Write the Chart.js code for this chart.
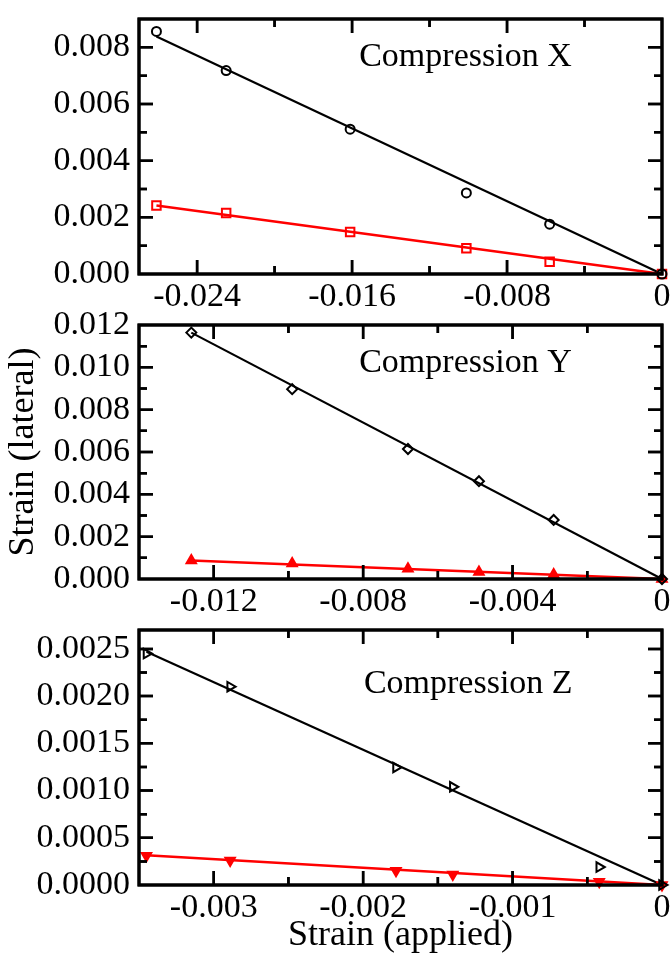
<!DOCTYPE html>
<html>
<head>
<meta charset="utf-8">
<script src="https://cdn.jsdelivr.net/npm/chart.js@4.4.1/dist/chart.umd.min.js"></script>
<style>
  html, body { margin: 0; padding: 0; background: #fff; overflow: hidden; }
  #wrap { position: relative; width: 671px; height: 958px; overflow: hidden; background: #fff; }
  #wrap canvas { position: absolute; left: 0; }
</style>
</head>
<body>
<div id="wrap">
  <canvas id="panelX"></canvas>
  <canvas id="panelY"></canvas>
  <canvas id="panelZ"></canvas>
</div>
<script>
// ---- Compression X ----
const appliedX   = [-0.0261, -0.0225, -0.0161, -0.0101, -0.0058, 0];
const lateralX1  = [0.00856, 0.00718, 0.00511, 0.00286, 0.00176, 0];
const lateralX2  = [0.00242, 0.00215, 0.00148, 0.00091, 0.00043, 0];
const fitSpanX   = [-0.0261, 0];
const fitX1      = [0.00838, 0];
const fitX2      = [0.00242, 0];
const xTicksX    = ['-0.024', '-0.016', '-0.008', '0'];
const yTicksX    = ['0.000', '0.002', '0.004', '0.006', '0.008'];

// ---- Compression Y ----
const appliedY   = [-0.0126, -0.0099, -0.0068, -0.0049, -0.0029, 0];
const lateralY1  = [0.01164, 0.00897, 0.00614, 0.00462, 0.00279, 0];
const lateralY2  = [0.00087, 0.00073, 0.00049, 0.00033, 0.00021, 0];
const fitSpanY   = [-0.0126, 0];
const fitY1      = [0.01164, 0];
const fitY2      = [0.00087, 0];
const xTicksY    = ['-0.012', '-0.008', '-0.004', '0'];
const yTicksY    = ['0.000', '0.002', '0.004', '0.006', '0.008', '0.010', '0.012'];

// ---- Compression Z ----
const appliedZ   = [-0.00345, -0.00289, -0.00178, -0.00140, -0.00042, 0];
const lateralZ1  = [0.00245, 0.00210, 0.001245, 0.00104, 0.00019, 0];
const lateralZ2  = [0.00031, 0.00026, 0.000152, 0.00011, 0.000035, 0];
const fitSpanZ   = [-0.00345, 0];
const fitZ1      = [0.00247, 0];
const fitZ2      = [0.000316, 0];
const xTicksZ    = ['-0.003', '-0.002', '-0.001', '0'];
const yTicksZ    = ['0.0000', '0.0005', '0.0010', '0.0015', '0.0020', '0.0025'];

// ---- layout ----
const FONT = '"Liberation Serif", "Times New Roman", serif';
const PLOT_LEFT = 139, PLOT_RIGHT = 662, CANVAS_W = 700, PAD_TOP = 40;
const BLACK = '#000000', RED = '#ff0000';

const toPoints = (xs, ys) => xs.map((x, i) => ({ x, y: ys[i] }));

// Minor tick values halfway between the major ticks, within the axis range
function minorValues(scale) {
  const vals = scale.ticks.map(t => t.value);
  const step = vals[1] - vals[0];
  const out = [];
  let v = vals[0] - step / 2;
  while (v - step >= scale.min) v -= step;
  for (; v <= scale.max + step * 1e-6; v += step) {
    if (v >= scale.min - step * 1e-6) out.push(v);
  }
  return out;
}

// Boxed frame with inward major/minor ticks on all four sides
function drawFrame(chart) {
  const { ctx, chartArea: a, scales: { x, y } } = chart;
  ctx.save();
  ctx.setTransform(1, 0, 0, 1, 0, 0);
  ctx.globalAlpha = 1;
  ctx.globalCompositeOperation = 'source-over';
  ctx.setLineDash([]);
  ctx.strokeStyle = BLACK;
  ctx.lineCap = 'butt';
  const vTicks = (vals, len) => {
    vals.forEach(v => {
      const px = x.getPixelForValue(v);
      if (!(px > a.left + 2 && px < a.right - 2)) return;
      ctx.beginPath();
      ctx.moveTo(px, a.bottom); ctx.lineTo(px, a.bottom - len);
      ctx.moveTo(px, a.top); ctx.lineTo(px, a.top + len);
      ctx.stroke();
    });
  };
  const hTicks = (vals, len) => {
    vals.forEach(v => {
      const py = y.getPixelForValue(v);
      if (!(py > a.top + 2 && py < a.bottom - 2)) return;
      ctx.beginPath();
      ctx.moveTo(a.left, py); ctx.lineTo(a.left + len, py);
      ctx.moveTo(a.right, py); ctx.lineTo(a.right - len, py);
      ctx.stroke();
    });
  };
  ctx.lineWidth = 2.5;
  vTicks(x.ticks.map(t => t.value), 14);
  vTicks(minorValues(x), 8);
  hTicks(y.ticks.map(t => t.value), 14);
  hTicks(minorValues(y), 8);
  ctx.lineWidth = 3;
  ctx.strokeRect(a.left, a.top, a.right - a.left, a.bottom - a.top);
  ctx.restore();
}

// Panel caption written inside the plot box
function drawNote(chart) {
  const note = chart.config.options.panelNote;
  if (!note || !note.text) return;
  const { ctx, chartArea: a } = chart;
  ctx.save();
  ctx.fillStyle = BLACK;
  ctx.font = '34px ' + FONT;
  ctx.textAlign = 'left';
  ctx.textBaseline = 'alphabetic';
  ctx.fillText(note.text, a.left + note.fx * (a.right - a.left), a.top + note.fy * (a.bottom - a.top));
  ctx.restore();
}

const boxPlugin = {
  id: 'boxFrame',
  afterDatasetsDraw(chart) { drawFrame(chart); },
  afterDraw(chart) { drawFrame(chart); drawNote(chart); }
};

function buildPanel(id, p) {
  const canvas = document.getElementById(id);
  const h = (p.bottom - p.top) + PAD_TOP + p.axisH;
  canvas.width = CANVAS_W;
  canvas.height = h;
  canvas.style.width = CANVAS_W + 'px';
  canvas.style.height = h + 'px';
  canvas.style.top = (p.top - PAD_TOP) + 'px';

  const tickFont = { family: FONT, size: 34 };
  const titleFont = { family: FONT, size: 36 };

  return new Chart(canvas, {
    type: 'scatter',
    data: {
      datasets: [
        {
          data: toPoints(p.xs, p.black), order: 1, showLine: false,
          pointStyle: p.blackStyle, pointRotation: p.blackRot || 0, pointRadius: p.blackR,
          pointBorderColor: BLACK, pointBackgroundColor: 'rgba(0,0,0,0)', pointBorderWidth: 2,
          clip: false
        },
        {
          data: toPoints(p.xs, p.red), order: 2, showLine: false,
          pointStyle: p.redStyle, pointRotation: p.redRot || 0, pointRadius: p.redR,
          pointBorderColor: RED, pointBackgroundColor: p.redFill ? RED : 'rgba(0,0,0,0)', pointBorderWidth: 2,
          clip: false
        },
        {
          data: toPoints(p.fitSpan, p.fitBlack), order: 3, showLine: true,
          borderColor: BLACK, borderWidth: 2.2, pointRadius: 0, clip: false
        },
        {
          data: toPoints(p.fitSpan, p.fitRed), order: 4, showLine: true,
          borderColor: RED, borderWidth: 2.5, pointRadius: 0, clip: false
        }
      ]
    },
    options: {
      responsive: false,
      animation: false,
      events: [],
      panelNote: { text: p.note, fx: p.noteFx, fy: p.noteFy },
      layout: { padding: { top: PAD_TOP, left: 0, right: CANVAS_W - PLOT_RIGHT, bottom: 0 } },
      plugins: {
        legend: { display: false },
        tooltip: { enabled: false }
      },
      scales: {
        x: {
          type: 'linear', position: 'bottom', min: p.xRange[0], max: p.xRange[1],
          afterBuildTicks: s => { s.ticks = p.xTicks.map(t => ({ value: Number(t) })); },
          afterFit: s => { s.height = p.axisH; },
          ticks: {
            autoSkip: false, maxRotation: 0, minRotation: 0, padding: 3,
            color: BLACK, font: tickFont, callback: (v, i) => p.xTicks[i]
          },
          grid: { display: false, drawTicks: false },
          border: { display: false },
          title: p.xTitle
            ? { display: true, text: p.xTitle, color: BLACK, font: titleFont, padding: { top: 0, bottom: 1 } }
            : { display: false }
        },
        y: {
          type: 'linear', position: 'left', min: p.yRange[0], max: p.yRange[1],
          afterBuildTicks: s => { s.ticks = p.yTicks.map(t => ({ value: Number(t) })); },
          afterFit: s => { s.width = PLOT_LEFT; },
          ticks: {
            autoSkip: false, padding: 9,
            color: BLACK, font: tickFont, callback: (v, i) => p.yTicks[i]
          },
          grid: { display: false, drawTicks: false },
          border: { display: false },
          title: p.yTitle
            ? { display: true, text: p.yTitle, color: BLACK, font: titleFont, padding: { top: 2, bottom: 0 } }
            : { display: false }
        }
      }
    },
    plugins: [boxPlugin]
  });
}

buildPanel('panelX', {
  top: 19, bottom: 274, axisH: 46,
  xs: appliedX, black: lateralX1, red: lateralX2,
  fitSpan: fitSpanX, fitBlack: fitX1, fitRed: fitX2,
  xRange: [-0.027, 0], yRange: [0, 0.009], xTicks: xTicksX, yTicks: yTicksX,
  blackStyle: 'circle', blackR: 4.5,
  redStyle: 'rect', redR: 6, redFill: false,
  note: 'Compression X', noteFx: 0.421, noteFy: 0.184
});

buildPanel('panelY', {
  top: 325, bottom: 579, axisH: 46,
  xs: appliedY, black: lateralY1, red: lateralY2,
  fitSpan: fitSpanY, fitBlack: fitY1, fitRed: fitY2,
  xRange: [-0.014, 0], yRange: [0, 0.012], xTicks: xTicksY, yTicks: yTicksY,
  blackStyle: 'rectRot', blackR: 5,
  redStyle: 'triangle', redR: 5.5, redFill: true,
  note: 'Compression Y', noteFx: 0.421, noteFy: 0.185,
  yTitle: 'Strain (lateral)'
});

buildPanel('panelZ', {
  top: 630, bottom: 885, axisH: 73,
  xs: appliedZ, black: lateralZ1, red: lateralZ2,
  fitSpan: fitSpanZ, fitBlack: fitZ1, fitRed: fitZ2,
  xRange: [-0.0035, 0], yRange: [0, 0.0027], xTicks: xTicksZ, yTicks: yTicksZ,
  blackStyle: 'triangle', blackRot: 90, blackR: 5.5,
  redStyle: 'triangle', redRot: 180, redR: 5.5, redFill: true,
  note: 'Compression Z', noteFx: 0.430, noteFy: 0.247,
  xTitle: 'Strain (applied)'
});
</script>
</body>
</html>
